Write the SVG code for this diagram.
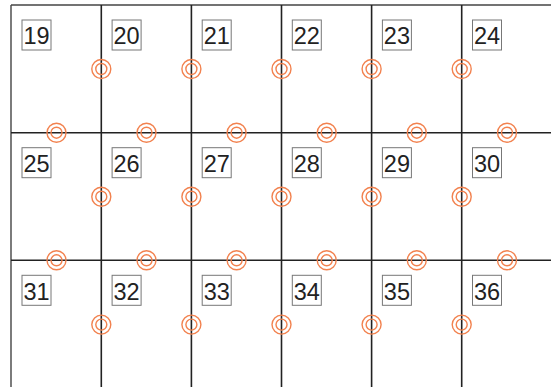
<svg xmlns="http://www.w3.org/2000/svg" xmlns:xlink="http://www.w3.org/1999/xlink" width="551" height="387" viewBox="0 0 551 387">
<style>
.grid{stroke:#222;stroke-width:1.6;fill:none}
.border{stroke:#444;stroke-width:1.4;fill:none}
.box{fill:#fff;stroke:#777;stroke-width:1}
.num{font-family:"Liberation Sans",Arial,sans-serif;font-size:23.5px;fill:#222;text-anchor:middle}
.ring{fill:none;stroke:#f2824f;stroke-width:1.4}
</style>
<defs>
<g id="dbl"><circle class="ring" r="9.5"/><circle class="ring" r="5.5"/></g>
</defs>
<rect width="551" height="387" fill="#fff"/>
<g id="connectors">
<line class="border" x1="11" y1="5" x2="551" y2="5"/>
<line class="border" x1="11" y1="5" x2="11" y2="387"/>
<line class="grid" x1="11" y1="132.7" x2="551" y2="132.7"/>
<line class="grid" x1="11" y1="260.3" x2="551" y2="260.3"/>
<line class="grid" x1="101.3" y1="5" x2="101.3" y2="387"/>
<line class="grid" x1="191.4" y1="5" x2="191.4" y2="387"/>
<line class="grid" x1="281.5" y1="5" x2="281.5" y2="387"/>
<line class="grid" x1="371.6" y1="5" x2="371.6" y2="387"/>
<line class="grid" x1="461.7" y1="5" x2="461.7" y2="387"/>
</g>
<g id="rings">
<use xlink:href="#dbl" x="101.3" y="69"/><use xlink:href="#dbl" x="191.4" y="69"/><use xlink:href="#dbl" x="281.5" y="69"/><use xlink:href="#dbl" x="371.6" y="69"/><use xlink:href="#dbl" x="461.7" y="69"/>
<use xlink:href="#dbl" x="101.3" y="196.7"/><use xlink:href="#dbl" x="191.4" y="196.7"/><use xlink:href="#dbl" x="281.5" y="196.7"/><use xlink:href="#dbl" x="371.6" y="196.7"/><use xlink:href="#dbl" x="461.7" y="196.7"/>
<use xlink:href="#dbl" x="101.3" y="324.6"/><use xlink:href="#dbl" x="191.4" y="324.6"/><use xlink:href="#dbl" x="281.5" y="324.6"/><use xlink:href="#dbl" x="371.6" y="324.6"/><use xlink:href="#dbl" x="461.7" y="324.6"/>
<use xlink:href="#dbl" x="56.5" y="132.7"/><use xlink:href="#dbl" x="146.5" y="132.7"/><use xlink:href="#dbl" x="236.6" y="132.7"/><use xlink:href="#dbl" x="326.7" y="132.7"/><use xlink:href="#dbl" x="416.8" y="132.7"/><use xlink:href="#dbl" x="507" y="132.7"/>
<use xlink:href="#dbl" x="56.5" y="260.3"/><use xlink:href="#dbl" x="146.5" y="260.3"/><use xlink:href="#dbl" x="236.6" y="260.3"/><use xlink:href="#dbl" x="326.7" y="260.3"/><use xlink:href="#dbl" x="416.8" y="260.3"/><use xlink:href="#dbl" x="507" y="260.3"/>
</g>
<g id="cell-19"><rect class="box" x="22" y="20" width="29" height="30"/><text class="num" x="36.5" y="44.3">19</text></g>
<g id="cell-20"><rect class="box" x="112.1" y="20" width="29" height="30"/><text class="num" x="126.6" y="44.3">20</text></g>
<g id="cell-21"><rect class="box" x="202.2" y="20" width="29" height="30"/><text class="num" x="216.7" y="44.3">21</text></g>
<g id="cell-22"><rect class="box" x="292.3" y="20" width="29" height="30"/><text class="num" x="306.8" y="44.3">22</text></g>
<g id="cell-23"><rect class="box" x="382.4" y="20" width="29" height="30"/><text class="num" x="396.9" y="44.3">23</text></g>
<g id="cell-24"><rect class="box" x="472.5" y="20" width="29" height="30"/><text class="num" x="487" y="44.3">24</text></g>
<g id="cell-25"><rect class="box" x="22" y="147.7" width="29" height="30"/><text class="num" x="36.5" y="172">25</text></g>
<g id="cell-26"><rect class="box" x="112.1" y="147.7" width="29" height="30"/><text class="num" x="126.6" y="172">26</text></g>
<g id="cell-27"><rect class="box" x="202.2" y="147.7" width="29" height="30"/><text class="num" x="216.7" y="172">27</text></g>
<g id="cell-28"><rect class="box" x="292.3" y="147.7" width="29" height="30"/><text class="num" x="306.8" y="172">28</text></g>
<g id="cell-29"><rect class="box" x="382.4" y="147.7" width="29" height="30"/><text class="num" x="396.9" y="172">29</text></g>
<g id="cell-30"><rect class="box" x="472.5" y="147.7" width="29" height="30"/><text class="num" x="487" y="172">30</text></g>
<g id="cell-31"><rect class="box" x="22" y="275.3" width="29" height="30"/><text class="num" x="36.5" y="299.6">31</text></g>
<g id="cell-32"><rect class="box" x="112.1" y="275.3" width="29" height="30"/><text class="num" x="126.6" y="299.6">32</text></g>
<g id="cell-33"><rect class="box" x="202.2" y="275.3" width="29" height="30"/><text class="num" x="216.7" y="299.6">33</text></g>
<g id="cell-34"><rect class="box" x="292.3" y="275.3" width="29" height="30"/><text class="num" x="306.8" y="299.6">34</text></g>
<g id="cell-35"><rect class="box" x="382.4" y="275.3" width="29" height="30"/><text class="num" x="396.9" y="299.6">35</text></g>
<g id="cell-36"><rect class="box" x="472.5" y="275.3" width="29" height="30"/><text class="num" x="487" y="299.6">36</text></g>
</svg>
